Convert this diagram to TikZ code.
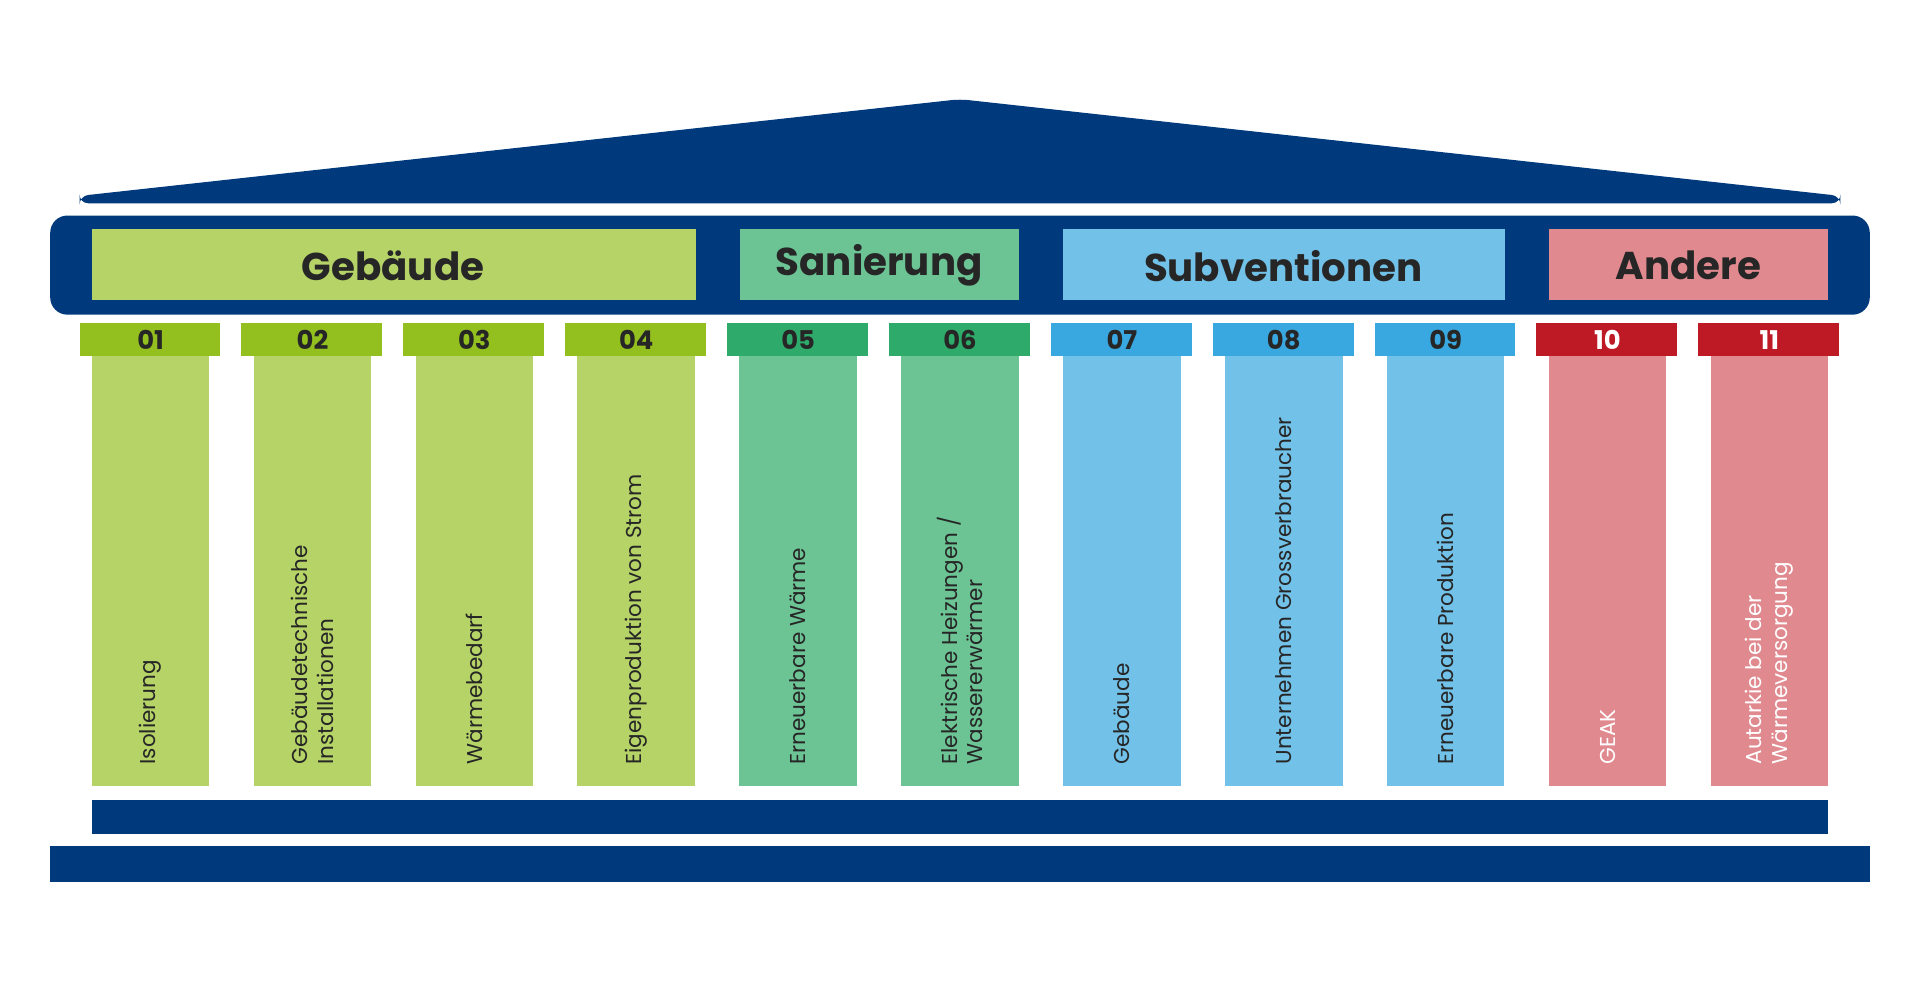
\documentclass[tikz,border=0pt]{standalone}
\usepackage{fontspec}
\setmainfont{Poppins}
\definecolor{navy}{HTML}{003A7D}
\definecolor{gLight}{HTML}{B5D366}\definecolor{gDark}{HTML}{93C01F}
\definecolor{sLight}{HTML}{6CC495}\definecolor{sDark}{HTML}{2EAB6B}
\definecolor{bLight}{HTML}{72C1E8}\definecolor{bDark}{HTML}{3AA8E0}
\definecolor{rLight}{HTML}{E08A90}\definecolor{rDark}{HTML}{BE1A26}
\tikzset{
  head/.style={font=\bfseries\fontsize{9}{10}\selectfont,text=black!85},
  num/.style={font=\bfseries\fontsize{6}{7}\selectfont},
  lbl/.style={rotate=90,anchor=west,align=left,inner sep=0pt,
    font=\fontsize{5}{6}\selectfont}
}
\begin{document}
\begin{tikzpicture}[x=0.01cm,y=-0.01cm]
  \useasboundingbox (0,0) rectangle (1568,818);
  % roof and beams
  \fill[navy,rounded corners=2] (65,160) -- (784,81) -- (1503,160) -- (1503,166) -- (65,166) -- cycle;
  \fill[navy,rounded corners=4] (41,176) rectangle (1527,257);
  \fill[navy] (75,653) rectangle (1493,681);
  \fill[navy] (41,691) rectangle (1527,720);
  % group headers
  \fill[gLight] (75,187) rectangle (568,245);
  \fill[sLight] (604,187) rectangle (832,245);
  \fill[bLight] (868,187) rectangle (1229,245);
  \fill[rLight] (1265,187) rectangle (1493,245);
  \node[head] (Hgeb) at (321,217) {Gebäude};
  \node[head] (Hsan) at (718,217) {Sanierung};
  \node[head] (Hsub) at (1048,217) {Subventionen};
  \node[head] (Hand) at (1379,217) {Andere};
  % columns
  \foreach \i/\n/\lc/\dc/\tc/\txt in {
      0/01/gLight/gDark/black!85/Isolierung,
      1/02/gLight/gDark/black!85/{Gebäudetechnische\\Installationen},
      2/03/gLight/gDark/black!85/Wärmebedarf,
      3/04/gLight/gDark/black!85/Eigenproduktion von Strom,
      4/05/sLight/sDark/black!85/Erneuerbare Wärme,
      5/06/sLight/sDark/black!85/{Elektrische Heizungen /\\Wassererwärmer},
      6/07/bLight/bDark/black!85/Gebäude,
      7/08/bLight/bDark/black!85/Unternehmen Grossverbraucher,
      8/09/bLight/bDark/black!85/Erneuerbare Produktion,
      9/10/rLight/rDark/white/GEAK,
      10/11/rLight/rDark/white/{Autarkie bei der\\Wärmeversorgung}} {
    \pgfmathsetmacro{\xa}{75+132.2*\i}
    \fill[\lc] (\xa,291) rectangle ++(96,351);
    \fill[\dc] (\xa-10,264) rectangle ++(115,27);
    \node[num,text=\ifnum\i>8 white\else black!85\fi] (N\n) at (\xa+48,277.5) {\n};
    \node[lbl,text=\tc] (L\n) at (\xa+48,625) {\txt};
  }
\end{tikzpicture}
\end{document}
